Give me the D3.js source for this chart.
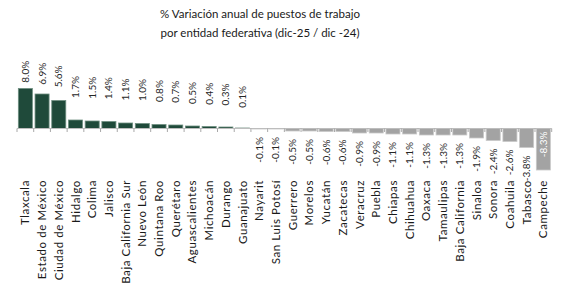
<!DOCTYPE html>
<html>
<head>
<meta charset="utf-8">
<script src="https://cdn.jsdelivr.net/npm/d3@7"></script>
<style>
	body { margin: 0; background: #ffffff; }
	text { font-family: Lato, "Open Sans", sans-serif; }
</style>
</head>
<body>
<svg id="chart" width="573" height="298"></svg>
<script>

// estados, ordenados de mayor a menor variacion
var states = ["Tlaxcala", "Estado de México", "Ciudad de México", "Hidalgo", "Colima",
	"Jalisco", "Baja California Sur", "Nuevo León", "Quintana Roo", "Querétaro",
	"Aguascalientes", "Michoacán", "Durango", "Guanajuato", "Nayarit",
	"San Luis Potosí", "Guerrero", "Morelos", "Yucatán", "Zacatecas",
	"Veracruz", "Puebla", "Chiapas", "Chihuahua", "Oaxaca",
	"Tamaulipas", "Baja California", "Sinaloa", "Sonora", "Coahuila",
	"Tabasco", "Campeche"];

var values = [8.0, 6.9, 5.6, 1.7, 1.5,
	1.4, 1.1, 1.0, 0.8, 0.7,
	0.5, 0.4, 0.3, 0.1, -0.1,
	-0.1, -0.5, -0.5, -0.6, -0.6,
	-0.9, -0.9, -1.1, -1.1, -1.3,
	-1.3, -1.3, -1.9, -2.4, -2.6,
	-3.8, -8.3];

var titleLines = ["% Variación anual de puestos de trabajo", "por entidad federativa (dic-25 / dic -24)"];

var data = states.map(function(s, i)
{
	return { name: s, value: values[i] };
});

var svg = d3.select("#chart");

var x = d3.scaleBand()
	.domain(states)
	.range([17, 551.7])
	.paddingInner(0.16)
	.paddingOuter(0.08);

var y = d3.scaleLinear()
	.domain([-8.3, 8.0])
	.range([170, 88.5]);

// posicion de las etiquetas de valor (como las coloca Excel)
function labelY(v)
{
	if (v >= 0) return y(Math.sqrt(v) * 2) - 17.5;
	return y(v) + 8;
}

// titulo
svg.selectAll("text.title")
	.data(titleLines)
	.enter()
	.append("text")
	.attr("class", "title")
	.attr("x", 260)
	.attr("y", function(d, i)
	{
		return 18 + i * 19;
	})
	.attr("text-anchor", "middle")
	.style("font-size", "11.5px")
	.style("fill", "#1a1a1a")
	.text(function(d)
	{
		return d;
	});

// barras
svg.selectAll("rect.bar")
	.data(data)
	.enter()
	.append("rect")
	.attr("class", "bar")
	.attr("x", function(d)
	{
		return x(d.name);
	})
	.attr("width", x.bandwidth())
	.attr("y", function(d)
	{
		return Math.min(y(d.value), y(0));
	})
	.attr("height", function(d)
	{
		return Math.abs(y(d.value) - y(0));
	})
	.style("fill", function(d)
	{
		return d.value >= 0 ? "#1f4a3a" : "#a3a3a3";
	})
	.style("stroke", function(d)
	{
		return d.value >= 0 ? "#6f8f80" : "#c9c9c9";
	})
	.style("stroke-width", 0.8);

// eje
var edges = d3.range(states.length + 1).map(function(i)
{
	return 17 + i * (551.7 - 17) / states.length;
});

svg.append("line")
	.attr("x1", 17)
	.attr("x2", 551.7)
	.attr("y1", y(0))
	.attr("y2", y(0))
	.style("stroke", "#bdbdbd")
	.style("stroke-width", 1);

svg.selectAll("line.tick")
	.data(edges)
	.enter()
	.append("line")
	.attr("class", "tick")
	.attr("x1", function(d) { return d; })
	.attr("x2", function(d) { return d; })
	.attr("y1", y(0))
	.attr("y2", y(0) + 3.5)
	.style("stroke", "#a8a8a8")
	.style("stroke-width", 1);

// etiquetas de valor
svg.selectAll("text.val")
	.data(data)
	.enter()
	.append("text")
	.attr("class", "val")
	.attr("transform", function(d, i)
	{
		var cx = x(d.name) + x.bandwidth() / 2;
		var ty = i == data.length - 1 ? y(0) + 3 : labelY(d.value);
		return "translate(" + cx + "," + ty + ") rotate(-90)";
	})
	.attr("dy", "0.35em")
	.attr("text-anchor", function(d, i)
	{
		if (i == data.length - 1) return "end";
		return d.value >= 0 ? "start" : "end";
	})
	.style("font-size", "10px")
	.style("fill", function(d, i)
	{
		return i == data.length - 1 ? "#ffffff" : "#262626";
	})
	.text(function(d)
	{
		return d.value.toFixed(1) + "%";
	});

// nombres de estados
svg.selectAll("text.cat")
	.data(data)
	.enter()
	.append("text")
	.attr("class", "cat")
	.attr("transform", function(d)
	{
		return "translate(" + (x(d.name) + x.bandwidth() / 2) + ",180) rotate(-90)";
	})
	.attr("dy", "0.35em")
	.attr("text-anchor", "end")
	.style("font-size", "11.5px")
	.style("letter-spacing", "0.6px")
	.style("fill", "#1a1a1a")
	.text(function(d)
	{
		return d.name;
	});

</script>
</body>
</html>
